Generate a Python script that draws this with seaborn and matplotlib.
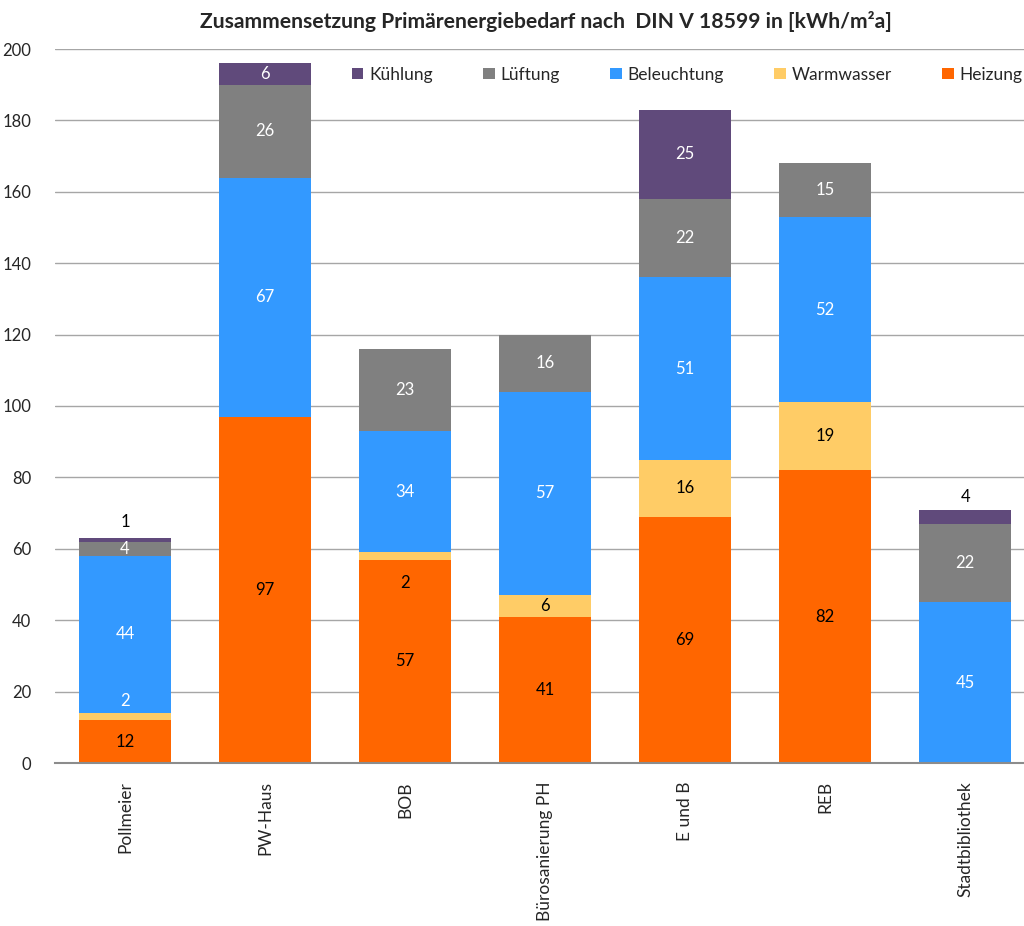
import matplotlib
matplotlib.use("Agg")
import matplotlib.pyplot as plt
import seaborn as sns
import numpy as np
from matplotlib.patches import Patch

sns.set_theme(style="white")
plt.rcParams["font.family"] = ["Lato", "DejaVu Sans"]

# Buildings and energy demand components in kWh/m²a
categories = ["Pollmeier", "PW-Haus", "BOB", "Bürosanierung PH", "E und B", "REB", "Stadtbibliothek"]
heizung = [12, 97, 57, 41, 69, 82, 0]
warmwasser = [2, 0, 2, 6, 16, 19, 0]
beleuchtung = [44, 67, 34, 57, 51, 52, 45]
lueftung = [4, 26, 23, 16, 22, 15, 22]
kuehlung = [1, 6, 0, 0, 25, 0, 4]

series = [
    ("Heizung", heizung, "#FF6600", "black"),
    ("Warmwasser", warmwasser, "#FFCC66", "black"),
    ("Beleuchtung", beleuchtung, "#3399FF", "white"),
    ("Lüftung", lueftung, "#808080", "white"),
    ("Kühlung", kuehlung, "#604A7B", "white"),
]

fig = plt.figure(figsize=(10.24, 9.26), dpi=100)
ax = fig.add_axes([55 / 1024, 1 - 763 / 926, 969 / 1024, 714 / 926])

ax.set_axisbelow(True)
ax.yaxis.grid(True, color="#A6A6A6", linewidth=1.0)

# label placement for thin segments whose labels sit outside the segment
above_top = {("Warmwasser", 0): 3.5, ("Kühlung", 0): 4.5, ("Kühlung", 6): 3.5}
below_base = {("Warmwasser", 2): -6.5}
label_color_override = {
    ("Warmwasser", 0): "white",
    ("Kühlung", 0): "black",
    ("Kühlung", 6): "black",
}

bottom = np.zeros(len(categories))
for name, vals, color, tcolor in series:
    vals = np.array(vals, dtype=float)
    sns.barplot(x=categories, y=vals, bottom=bottom, color=color, width=0.655,
                saturation=1, ax=ax, linewidth=0)
    for i, v in enumerate(vals):
        if v <= 0:
            continue
        key = (name, i)
        if key in above_top:
            yc = bottom[i] + v + above_top[key]
        elif key in below_base:
            yc = bottom[i] + below_base[key]
        else:
            yc = bottom[i] + v / 2
        c = label_color_override.get(key, tcolor)
        ax.text(i, yc, f"{int(v)}", ha="center", va="center", fontsize=12, color=c)
    bottom += vals

ax.set_ylim(0, 200)
ax.set_xlim(-0.5, 6.42)
ax.set_yticks(np.arange(0, 201, 20))
ax.tick_params(axis="y", labelsize=12, length=0, pad=17)
ax.tick_params(axis="x", labelsize=12.5, length=0, pad=13)
plt.setp(ax.get_xticklabels(), rotation=90)
for side in ["top", "right", "left"]:
    ax.spines[side].set_visible(False)
ax.spines["bottom"].set_color("#8C8C8C")
ax.spines["bottom"].set_linewidth(1.5)
ax.set_xlabel("")
ax.set_ylabel("")

fig.suptitle("Zusammensetzung Primärenergiebedarf nach  DIN V 18599 in [kWh/m²a]",
             x=0.533, y=0.988, fontsize=15.2, fontweight="bold")

handles = [Patch(facecolor=c, edgecolor="none", label=n) for n, _, c, _ in reversed(series)]
ax.legend(handles=handles, loc="upper left", bbox_to_anchor=(290 / 969, 0.985), ncol=5,
          frameon=False, fontsize=12.5, handlelength=0.65, handleheight=0.65,
          handletextpad=0.35, columnspacing=2.9, borderaxespad=0)

fig.savefig("out.png", dpi=100)
